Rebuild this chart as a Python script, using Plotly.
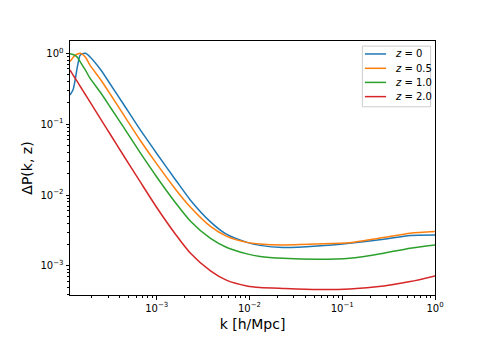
import plotly.graph_objects as go

# k values [h/Mpc] shared by every curve
k = [1.16e-4, 1.25e-4, 1.32e-4, 1.4e-4, 1.5e-4, 1.7e-4, 1.9e-4, 2.5e-4, 3.2e-4,
     4.3e-4, 6.6e-4, 1.0e-3, 1.6e-3, 2.3e-3, 3.8e-3, 5.7e-3, 9.4e-3, 1.3e-2,
     2.3e-2, 5.4e-2, 0.12, 0.28, 0.54, 1.0]

dp_z0 = [0.258, 0.303, 0.42, 0.662, 0.946, 1.0, 0.895, 0.581, 0.357, 0.199,
         0.0842, 0.0386, 0.01633, 8.53e-3, 4.18e-3, 2.78e-3, 2.15e-3, 1.95e-3,
         1.82e-3, 1.91e-3, 2.09e-3, 2.38e-3, 2.69e-3, 2.74e-3]
dp_z05 = [0.762, 0.873, 0.931, 0.977, 1.0, 0.887, 0.684, 0.42, 0.258, 0.1416,
          0.0598, 0.0275, 0.0120, 6.79e-3, 3.61e-3, 2.61e-3, 2.15e-3, 2.04e-3,
          1.98e-3, 2.04e-3, 2.13e-3, 2.51e-3, 2.89e-3, 3.05e-3]
dp_z1 = [0.985, 0.962, 0.931, 0.873, 0.754, 0.581, 0.449, 0.275, 0.169, 0.0944,
         0.0399, 0.018, 7.74e-3, 4.31e-3, 2.44e-3, 1.82e-3, 1.48e-3, 1.36e-3,
         1.28e-3, 1.24e-3, 1.28e-3, 1.51e-3, 1.78e-3, 1.98e-3]
dp_z2 = [0.581, 0.497, 0.444, 0.394, 0.340, 0.262, 0.2076, 0.117, 0.0697, 0.0376,
         0.01555, 6.68e-3, 2.78e-3, 1.52e-3, 8.51e-4, 6.25e-4, 5.22e-4, 4.97e-4,
         4.82e-4, 4.66e-4, 4.74e-4, 5.22e-4, 6.01e-4, 7.23e-4]

labels = ["<i>z</i> = 0", "<i>z</i> = 0.5", "<i>z</i> = 1.0", "<i>z</i> = 2.0"]
colors = ["#1f77b4", "#ff7f0e", "#2ca02c", "#d62728"]

fig = go.Figure()
for ys, name, c in zip([dp_z0, dp_z05, dp_z1, dp_z2], labels, colors):
    fig.add_trace(go.Scatter(x=k, y=ys, mode="lines", name=name, showlegend=False,
                             line=dict(color=c, width=1.5, shape="spline", smoothing=0.7)))

# matplotlib-like legend box in the upper right (compact rows)
fig.add_shape(type="rect", xref="paper", yref="paper", x0=0.801, x1=0.988, y0=0.741, y1=0.980,
              line=dict(color="#cccccc", width=1), fillcolor="rgba(255,255,255,0.8)", layer="above")
row_y = [0.949, 0.8925, 0.837, 0.781]
for yy, name, c in zip(row_y, labels, colors):
    fig.add_shape(type="line", xref="paper", yref="paper", x0=0.808, x1=0.866, y0=yy, y1=yy,
                  line=dict(color=c, width=1.5), layer="above")
    fig.add_annotation(xref="paper", yref="paper", x=0.884, y=yy, text=name, showarrow=False,
                       xanchor="left", yanchor="middle",
                       font=dict(family="DejaVu Sans", size=10, color="black"))

# minor tick positions (2..9 per decade)
minor_x = [m * 10.0 ** e for e in range(-4, 0) for m in range(2, 10)]
minor_y = [m * 10.0 ** e for e in range(-4, 1) for m in range(2, 10)]

tick_pos = [1e-3, 1e-2, 1e-1, 1]
tick_txt = ["10<sup>\u22123</sup>", "10<sup>\u22122</sup>", "10<sup>\u22121</sup>", "10<sup>0</sup>"]

axis_common = dict(
    type="log", showgrid=False, zeroline=False, automargin=False,
    showline=True, linecolor="black", linewidth=1, mirror=True,
    ticks="outside", ticklen=3.5, tickwidth=0.8, tickcolor="black",
    tickfont=dict(family="DejaVu Sans", size=10, color="black"),
    tickvals=tick_pos, ticktext=tick_txt,
)

fig.update_xaxes(
    **axis_common,
    range=[-3.935, 0],
    minor=dict(tickmode="array", tickvals=minor_x, ticks="outside", ticklen=2,
               tickwidth=0.6, tickcolor="black", showgrid=False),
    title=dict(text="k [h/Mpc]", font=dict(family="DejaVu Sans", size=14, color="black"),
               standoff=6),
)
fig.update_yaxes(
    **axis_common,
    range=[-3.41, 0.173],
    minor=dict(tickmode="array", tickvals=minor_y, ticks="outside", ticklen=2,
               tickwidth=0.6, tickcolor="black", showgrid=False),
    title=dict(text="\u0394P(k, z)", font=dict(family="DejaVu Sans", size=14, color="black"),
               standoff=4),
)

fig.update_layout(
    width=484, height=347,
    margin=dict(l=70, r=49, t=41, b=52),
    paper_bgcolor="white", plot_bgcolor="white",
    font=dict(family="DejaVu Sans", size=10, color="black"),
    showlegend=False,
)

# drop the default page margin so the figure sits at the window's corner
fig.write_html("out.html", config={"displayModeBar": False},
               post_script="document.body.style.margin='0px';")
